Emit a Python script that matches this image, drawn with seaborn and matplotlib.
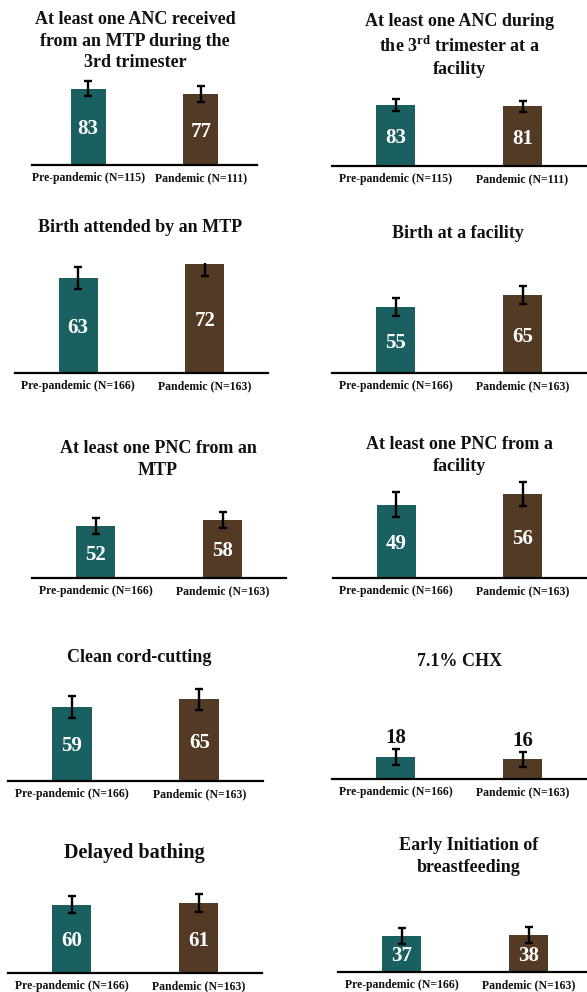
import matplotlib
matplotlib.use("Agg")
import matplotlib.pyplot as plt
import seaborn as sns
import pandas as pd

sns.set_theme(style="white")
plt.rcParams['font.family'] = ['Liberation Serif', 'DejaVu Serif']
plt.rcParams['mathtext.fontset'] = 'custom'
plt.rcParams['mathtext.rm'] = 'Liberation Serif:bold'
plt.rcParams['mathtext.bf'] = 'Liberation Serif:bold'

# ---------------- data ----------------
titles = [
    "At least one ANC received\nfrom an MTP during the\n3rd trimester",
    "At least one ANC during\nthe 3$^{\\mathbf{rd}}$ trimester at a\nfacility",
    "Birth attended by an MTP",
    "Birth at a facility",
    "At least one PNC from an\nMTP",
    "At least one PNC from a\nfacility",
    "Clean cord-cutting",
    "7.1% CHX",
    "Delayed bathing",
    "Early Initiation of\nbreastfeeding",
]
pre_n = [115, 115, 166, 166, 166, 166, 166, 166, 166, 166]
pan_n = [111, 111, 163, 163, 163, 163, 163, 163, 163, 163]
pre_values = [83, 83, 63, 55, 52, 49, 59, 18, 60, 37]
pan_values = [77, 81, 72, 65, 58, 56, 65, 16, 61, 38]
pre_err = [8.5, 7.5, 7.3, 7.9, 8.0, 8.2, 8.5, 6.4, 7.7, 8.0]
pan_err = [8.5, 8.0, 7.6, 7.1, 7.8, 8.1, 8.2, 6.0, 7.9, 8.0]
groups = ["Pre-pandemic", "Pandemic"]

# ---------------- layout (pixels) ----------------
W, H = 587, 992
TEAL = "#0F6B6B"
BROWN = "#5A3A1C"
# axis line left, right, baseline y, px per unit
ax_left = [32, 332, 15, 332, 32, 333, 8, 332, 8, 338]
ax_right = [257, 586, 268, 586, 286, 586, 263, 586, 262, 592]
ax_base = [165, 166, 373, 373, 578, 578, 781, 779, 973, 972]
ppu = [0.92, 0.735, 1.51, 1.2, 1.0, 1.5, 1.255, 1.23, 1.14, 0.98]
title_x = [135, 459, 140, 458, 158, 459, 139, 460, 134, 469]
title_y = [41, 45.5, 228, 233, 459.5, 455.5, 658, 661, 853, 856.5]
title_fs = [13, 13, 13, 13, 13, 13, 13, 13, 14.5, 13]
AX_H = 110

fig = plt.figure(figsize=(W / 100, H / 100), dpi=100)
fig.patch.set_facecolor("white")

for i in range(10):
    L, R, B = ax_left[i], ax_right[i], ax_base[i]
    ax = fig.add_axes([L / W, (H - B) / H, (R - L) / W, AX_H / H])
    xl = [f"{groups[0]} (N={pre_n[i]})", f"{groups[1]} (N={pan_n[i]})"]
    df = pd.DataFrame({"group": xl, "value": [pre_values[i], pan_values[i]]})
    sns.barplot(data=df, x="group", y="value", hue="group",
                palette=[TEAL, BROWN], width=0.31, edgecolor="none",
                legend=False, ax=ax, errorbar=None)
    ax.errorbar([0, 1], df["value"], yerr=[pre_err[i], pan_err[i]],
                fmt="none", ecolor="black", elinewidth=1.7, capsize=3,
                capthick=1.7, zorder=5)
    ax.set_xlim(-0.5, 1.5)
    ax.set_ylim(0, AX_H / ppu[i])
    for s in ["top", "left", "right"]:
        ax.spines[s].set_visible(False)
    ax.spines["bottom"].set_color("black")
    ax.spines["bottom"].set_linewidth(1.6)
    ax.set_yticks([])
    ax.set_xlabel("")
    ax.set_ylabel("")
    ax.tick_params(axis="x", length=0, pad=5)
    ax.set_xticks([0, 1])
    ax.set_xticklabels(xl, fontsize=8.5, fontweight="bold", color="#111111")
    ax.patch.set_alpha(0)
    vals = [pre_values[i], pan_values[i]]
    errs = [pre_err[i], pan_err[i]]
    for j, v in enumerate(vals):
        if v < 25:
            ax.text(j, v + errs[j] + 1, f"{v}", ha="center", va="bottom",
                    fontsize=15, fontweight="bold", color="#111111", zorder=6)
        else:
            ax.text(j, v / 2, f"{v}", ha="center", va="center_baseline",
                    fontsize=15, fontweight="bold", color="white", zorder=6)
    fig.text(title_x[i] / W, 1 - title_y[i] / H, titles[i], ha="center",
             va="center", fontsize=title_fs[i], fontweight="bold",
             color="#111111", linespacing=1.36)

fig.savefig("out.png", dpi=100, facecolor="white")
